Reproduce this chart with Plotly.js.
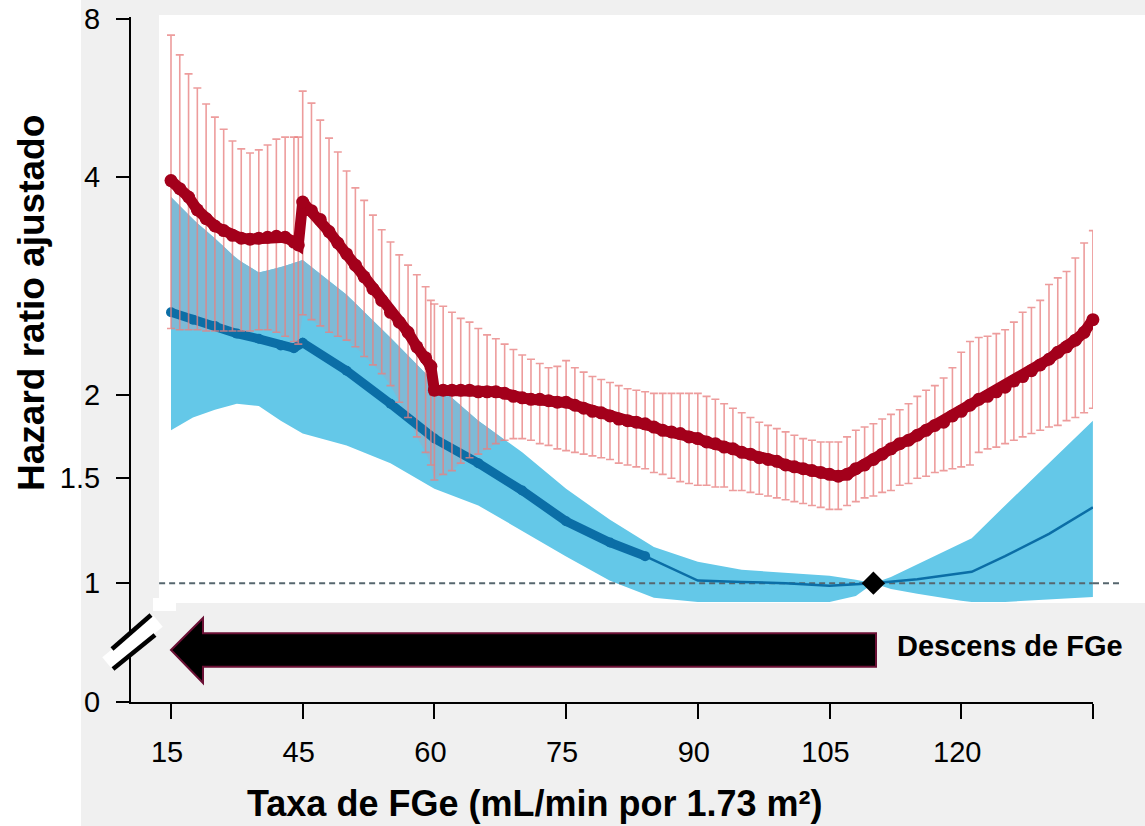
<!DOCTYPE html>
<html>
<head>
<meta charset="utf-8">
<script src="https://cdn.plot.ly/plotly-3.0.1.min.js"></script>
<style>
html,body{margin:0;padding:0;background:#ffffff;}
#chart{width:1145px;height:826px;}
</style>
</head>
<body>
<div id="chart"></div>
<script>
// ---------------- data ----------------
// Red series: adjusted hazard ratio with 95% CI (error bars)
const redGFR = [15,17,19,21,23,25,27,29,31,33,35,37,39,41,43,44,
  45,46,47,48,49,50,51,52,53,54,55,56,57,58,59,59.6,
  60,61,62,63,64,65,66,67,68,69,70,71,72,73,74,
  75,76,77,78,79,80,81,82,83,84,85,86,87,88,89,
  90,91,92,93,94,95,96,97,98,99,100,101,102,103,104,
  105,106,107,108,109,110,111,112,113,114,115,116,117,118,119,
  120,121,122,123,124,125,126,127,128,129,130,131,132,133,134,135];
const redHR = [3.95,3.85,3.75,3.60,3.50,3.42,3.37,3.32,3.29,3.28,3.29,3.30,3.31,3.30,3.25,3.22,
  3.69,3.59,3.49,3.36,3.24,3.13,3.02,2.91,2.80,2.70,2.60,2.52,2.44,2.33,2.25,2.19,
  2.03,2.03,2.03,2.03,2.03,2.02,2.02,2.02,2.01,1.99,1.98,1.97,1.97,1.96,1.95,
  1.95,1.93,1.91,1.89,1.88,1.86,1.84,1.83,1.82,1.81,1.79,1.77,1.76,1.75,1.73,
  1.72,1.70,1.69,1.67,1.66,1.64,1.63,1.61,1.60,1.59,1.57,1.56,1.55,1.54,1.53,
  1.52,1.51,1.52,1.55,1.57,1.60,1.63,1.66,1.69,1.71,1.74,1.77,1.80,1.82,1.86,
  1.89,1.93,1.97,1.99,2.02,2.05,2.09,2.12,2.16,2.20,2.24,2.29,2.33,2.38,2.44,2.54];
const redUpper = [7.46,6.84,6.29,5.91,5.51,5.20,4.93,4.68,4.52,4.44,4.50,4.60,4.72,4.76,4.76,4.76,
  5.83,5.53,5.13,4.74,4.46,4.10,3.86,3.71,3.54,3.38,3.25,3.12,3.02,2.93,2.82,2.70,
  2.67,2.65,2.60,2.55,2.52,2.47,2.42,2.39,2.35,2.31,2.27,2.24,2.21,2.18,2.19,
  2.23,2.18,2.15,2.12,2.10,2.08,2.06,2.04,2.03,2.02,2.01,2.01,2.01,2.01,2.01,
  2.01,1.99,1.97,1.94,1.91,1.88,1.85,1.82,1.80,1.78,1.76,1.74,1.72,1.71,1.70,
  1.70,1.70,1.73,1.77,1.79,1.81,1.84,1.87,1.90,1.94,1.99,2.03,2.06,2.11,2.18,
  2.29,2.37,2.40,2.41,2.43,2.46,2.52,2.60,2.64,2.70,2.84,2.90,2.96,3.09,3.24,3.37];
const redLower = [2.47,2.46,2.46,2.46,2.45,2.45,2.45,2.45,2.45,2.45,2.46,2.46,2.44,2.41,2.37,2.35,
  2.58,2.54,2.49,2.44,2.41,2.38,2.33,2.26,2.20,2.14,2.06,1.95,1.85,1.73,1.64,1.57,
  1.49,1.52,1.54,1.58,1.61,1.63,1.66,1.69,1.71,1.72,1.72,1.71,1.69,1.68,1.66,
  1.65,1.64,1.63,1.62,1.61,1.60,1.58,1.57,1.56,1.55,1.53,1.52,1.50,1.48,1.47,
  1.46,1.46,1.45,1.45,1.43,1.43,1.42,1.41,1.40,1.39,1.38,1.37,1.36,1.35,1.34,
  1.33,1.33,1.35,1.37,1.39,1.40,1.42,1.43,1.46,1.47,1.50,1.51,1.53,1.54,1.55,
  1.56,1.57,1.64,1.66,1.67,1.69,1.71,1.73,1.75,1.77,1.79,1.80,1.83,1.85,1.88,1.91];

// Blue series: adjusted hazard ratio (line) and its confidence band
const blueGFR = [15,20,25,30,35,40,43,45,50,55,60,65,70,75,80,84,90,95,100,105,110,115,121.2,125,130,135];
const blueHR  = [2.60,2.54,2.49,2.43,2.39,2.34,2.32,2.36,2.16,1.94,1.72,1.58,1.43,1.27,1.17,1.11,1.01,1.005,1.0,0.99,1.0,1.015,1.045,1.11,1.21,1.34];
const blueThickUntilGFR = 84;

const bandGFR   = [15,20,25,30,35,40,45,50,55,60,65,70,75,80,85,90,95,100,105,108,110,112,115,120,121.2,125,130,135];
const bandUpper = [3.75,3.49,3.29,3.08,2.95,3.00,3.07,2.75,2.40,2.08,1.83,1.64,1.44,1.277,1.15,1.086,1.053,1.04,1.029,1.013,1.0,1.024,1.075,1.166,1.19,1.35,1.58,1.83];
const bandLower = [1.77,1.85,1.90,1.94,1.925,1.83,1.75,1.68,1.58,1.44,1.35,1.224,1.109,1.009,0.945,0.93,0.93,0.93,0.93,0.952,1.0,0.978,0.96,0.934,0.93,0.93,0.938,0.948];

// Reference point
const refGFR = [110];
const refHR  = [1];
// Reference (HR = 1) dashed line extent
const refLineGFR = [12.3, 135];
const refLineHR  = [1, 1];

// Ticks
const xTickGFR  = [15,45,60,75,90,105,120,135];
const xTickText = ['15','45','60','75','90','105','120',''];
const yTickHR   = [1,1.5,2,4,8];
const yTickText = ['1','1.5','2','4','8'];

// Texts
const yTitle = 'Hazard ratio ajustado';
const xTitle = 'Taxa de FGe (mL/min por 1.73 m²)';
const arrowLabel = 'Descens de FGe';

// ---------------- axis scales ----------------
// x: 15→45 spans one tick interval, then 15 units per interval
function xPos(g){ return g <= 45 ? (g - 15) / 30 : 1 + (g - 45) / 15; }
// y: log-like scale, piecewise between labelled ticks (as drawn in the reference)
const yTickPos = [0, 0.5576, 1, 2.1593, 2.9952];
function yPos(v){
  const lv = Math.log(v);
  let i;
  if (v <= yTickHR[1]) i = 0;
  else if (v >= yTickHR[3]) i = 3;
  else { i = 1; while (v > yTickHR[i+1]) i++; }
  const l0 = Math.log(yTickHR[i]), l1 = Math.log(yTickHR[i+1]);
  return yTickPos[i] + (lv - l0) / (l1 - l0) * (yTickPos[i+1] - yTickPos[i]);
}
const yZeroPos = -0.6304;          // position of the broken-axis "0"
const xRange = [-0.3037, 7.0008];
const yRange = [-0.6312, 3.0074];

// ---------------- layout geometry helpers (pixels -> paper) ----------------
const W = 1145, H = 826;
const M = {l:131, r:52, t:17, b:124};
const PW = W - M.l - M.r, PH = H - M.t - M.b;
const px = x => (x - M.l) / PW;
const py = y => (H - M.b - y) / PH;
const pyFromPos = p => (p - yRange[0]) / (yRange[1] - yRange[0]);

// ---------------- derived geometry ----------------
function lerp(xs, ys, x){
  if (x <= xs[0]) return ys[0];
  for (let i = 1; i < xs.length; i++) {
    if (x <= xs[i]) { const t = (x - xs[i-1]) / (xs[i] - xs[i-1]); return ys[i-1] + t * (ys[i] - ys[i-1]); }
  }
  return ys[ys.length - 1];
}
const bandX = bandGFR.map(xPos), bandUpP = bandUpper.map(yPos), bandLoP = bandLower.map(yPos);
// region where the red confidence interval overlaps the blue band (drawn in a muted tone)
const ovX = [], ovHi = [], ovLo = [];
for (let i = 0; i < redGFR.length; i++) {
  const xp = xPos(redGFR[i]);
  if (xp < bandX[0] || xp > bandX[bandX.length-1]) continue;
  const hi = Math.min(yPos(redUpper[i]), lerp(bandX, bandUpP, xp));
  const lo = Math.max(yPos(redLower[i]), lerp(bandX, bandLoP, xp));
  if (hi > lo) { ovX.push(xp); ovHi.push(hi); ovLo.push(lo); }
  else if (ovX.length) break;
}

// ---------------- traces ----------------
const BAND = 'rgb(100,200,232)';
const BAND_MUTED = 'rgb(126,186,214)';
const BLUE = '#0b6ea6';
const RED = '#a3001b';

const traces = [];
traces.push({
  x: bandX, y: bandLoP, mode:'lines',
  line:{width:0, color:BAND}, hoverinfo:'skip', showlegend:false
});
traces.push({
  x: bandX, y: bandUpP, mode:'lines', fill:'tonexty',
  fillcolor:BAND, line:{width:0, color:BAND}, hoverinfo:'skip', showlegend:false
});
traces.push({
  x: ovX.concat(ovX.slice().reverse()), y: ovHi.concat(ovLo.slice().reverse()),
  mode:'lines', fill:'toself', fillcolor:BAND_MUTED, line:{width:0, color:BAND_MUTED},
  hoverinfo:'skip', showlegend:false
});
traces.push({
  x: refLineGFR.map(xPos), y: refLineHR.map(yPos), mode:'lines',
  line:{color:'#56666e', width:2, dash:'6px,4px'}, hoverinfo:'skip', showlegend:false
});
const thickIdx = blueGFR.map((g,i)=>i).filter(i => blueGFR[i] <= blueThickUntilGFR);
const thinIdx  = blueGFR.map((g,i)=>i).filter(i => blueGFR[i] >= blueThickUntilGFR);
traces.push({
  x: thinIdx.map(i=>xPos(blueGFR[i])), y: thinIdx.map(i=>yPos(blueHR[i])), mode:'lines',
  line:{color:BLUE, width:2.5}, hoverinfo:'skip', showlegend:false
});
traces.push({
  x: thickIdx.map(i=>xPos(blueGFR[i])), y: thickIdx.map(i=>yPos(blueHR[i])), mode:'lines+markers',
  line:{color:BLUE, width:9}, marker:{color:BLUE, size:10}, hoverinfo:'skip', showlegend:false
});
traces.push({
  x: redGFR.map(xPos), y: redHR.map(yPos), mode:'lines+markers',
  line:{color:RED, width:11}, marker:{color:RED, size:13},
  cliponaxis:false,
  error_y:{type:'data', symmetric:false,
    array: redUpper.map((u,i)=>yPos(u)-yPos(redHR[i])),
    arrayminus: redLower.map((l,i)=>yPos(redHR[i])-yPos(l)),
    color:'rgba(232,128,128,0.78)', thickness:1.6, width:4},
  hoverinfo:'skip', showlegend:false
});
traces.push({
  x: refGFR.map(xPos), y: refHR.map(yPos), mode:'markers',
  marker:{symbol:'diamond', color:'#000000', size:18}, cliponaxis:false,
  hoverinfo:'skip', showlegend:false
});

// ---------------- shapes ----------------
const shapes = [
  // white strip at far left
  {type:'rect', xref:'paper', yref:'paper', x0:px(0), x1:px(81), y0:py(0), y1:py(H),
   fillcolor:'#ffffff', line:{width:0}, layer:'below'},
  // white plotting region
  {type:'rect', xref:'paper', yref:'paper', x0:px(159), x1:px(W), y0:py(15), y1:py(603),
   fillcolor:'#ffffff', line:{width:0}, layer:'below'},
  {type:'rect', xref:'paper', yref:'paper', x0:px(153), x1:px(176), y0:py(598), y1:py(611),
   fillcolor:'#ffffff', line:{width:0}, layer:'below'},
  // reference line continuation past the last tick
  {type:'line', xref:'paper', yref:'paper', x0:px(1093), x1:px(1120),
   y0:pyFromPos(yPos(1)), y1:pyFromPos(yPos(1)),
   line:{color:'#56666e', width:2, dash:'6px,4px'}, layer:'above'},
  // axis break
  {type:'line', xref:'paper', yref:'paper', x0:px(107), y0:py(663), x1:px(158), y1:py(621),
   line:{color:'#ffffff', width:15}, layer:'above'},
  {type:'line', xref:'paper', yref:'paper', x0:px(112), y0:py(649), x1:px(151), y1:py(615),
   line:{color:'#000000', width:4.5}, layer:'above'},
  {type:'line', xref:'paper', yref:'paper', x0:px(113), y0:py(669), x1:px(155), y1:py(635),
   line:{color:'#000000', width:4.5}, layer:'above'},
  // big arrow (direction of declining eGFR)
  {type:'path', xref:'paper', yref:'paper',
   path:'M '+px(171)+' '+py(650)+' L '+px(203)+' '+py(618)+' L '+px(203)+' '+py(633.3)+
        ' L '+px(876)+' '+py(633.3)+' L '+px(876)+' '+py(666.7)+' L '+px(203)+' '+py(666.7)+
        ' L '+px(203)+' '+py(683)+' Z',
   fillcolor:'#000000', line:{color:'#6b1035', width:2}, layer:'above'}
];

// ---------------- annotations ----------------
const FONT = 'Liberation Sans, Arial, Helvetica, sans-serif';
const annotations = [
  {xref:'paper', yref:'paper', x:px(31.5), y:py(303.5), xanchor:'center', yanchor:'middle',
   text:yTitle, textangle:-90, showarrow:false,
   font:{family:FONT, size:37, color:'#000000', weight:'bold'}},
  {xref:'paper', yref:'paper', x:px(534), y:py(803), xanchor:'center', yanchor:'middle',
   text:xTitle, showarrow:false,
   font:{family:FONT, size:36, color:'#000000', weight:'bold'}},
  {xref:'paper', yref:'paper', x:px(895), y:py(646), xanchor:'left', yanchor:'middle',
   text:arrowLabel, showarrow:false,
   font:{family:FONT, size:29, color:'#000000', weight:'bold'}}
];

const layout = {
  width:W, height:H,
  margin:M,
  paper_bgcolor:'#f0f0f0',
  plot_bgcolor:'rgba(0,0,0,0)',
  showlegend:false,
  hovermode:false,
  font:{family:FONT, color:'#000000'},
  xaxis:{
    range:xRange, showgrid:false, zeroline:false,
    showline:true, linecolor:'#000000', linewidth:2,
    ticks:'outside', ticklen:15, tickwidth:2, tickcolor:'#000000',
    tickmode:'array', tickvals:xTickGFR.map(xPos), ticktext:xTickText,
    tickfont:{family:FONT, size:29, color:'#000000'},
    ticklabelstandoff:8, ticklabelshift:-4,
    fixedrange:true
  },
  yaxis:{
    range:yRange, showgrid:false, zeroline:false,
    showline:true, linecolor:'#000000', linewidth:2,
    ticks:'outside', ticklen:13, tickwidth:2, tickcolor:'#000000',
    tickmode:'array', tickvals:[yZeroPos].concat(yTickHR.map(yPos)), ticktext:['0'].concat(yTickText),
    tickfont:{family:FONT, size:29, color:'#000000'},
    ticklabelstandoff:10,
    fixedrange:true
  },
  shapes:shapes,
  annotations:annotations
};

Plotly.newPlot('chart', traces, layout, {staticPlot:true, displayModeBar:false});
</script>
</body>
</html>
